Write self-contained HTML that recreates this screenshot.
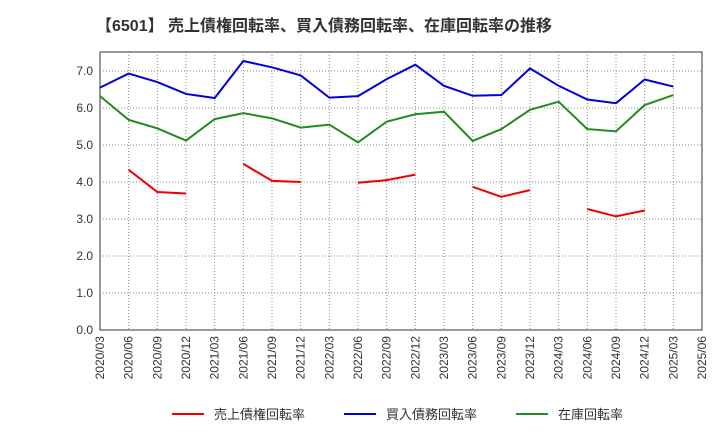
<!DOCTYPE html>
<html><head><meta charset="utf-8"><style>
body{margin:0;background:#fff;font-family:"Liberation Sans","Noto Sans CJK JP",sans-serif}
</style></head><body>
<svg id="c" width="720" height="440" xmlns="http://www.w3.org/2000/svg">
<text x="96" y="31" font-size="16" font-weight="bold" fill="#333" font-family="Liberation Sans,Noto Sans CJK JP,sans-serif">【6501】 売上債権回転率、買入債務回転率、在庫回転率の推移</text>
</svg>
<script>
const categories=["2020/03","2020/06","2020/09","2020/12","2021/03","2021/06","2021/09","2021/12","2022/03","2022/06","2022/09","2022/12","2023/03","2023/06","2023/09","2023/12","2024/03","2024/06","2024/09","2024/12","2025/03","2025/06"];
const receivables=[null,4.33,3.73,3.69,null,4.49,4.03,4.0,null,3.98,4.05,4.2,null,3.87,3.6,3.78,null,3.27,3.07,3.23,null];
const payables=[6.55,6.93,6.7,6.38,6.27,7.27,7.1,6.88,6.28,6.32,6.78,7.17,6.6,6.33,6.35,7.07,6.6,6.23,6.13,6.77,6.58];
const inventory=[6.32,5.68,5.45,5.12,5.7,5.86,5.72,5.47,5.55,5.07,5.63,5.83,5.9,5.11,5.43,5.95,6.17,5.43,5.37,6.08,6.35];
const yTicks=[0,1,2,3,4,5,6,7];
const yTickLabels=["0.0","1.0","2.0","3.0","4.0","5.0","6.0","7.0"];
const svg=document.getElementById('c');const NS="http://www.w3.org/2000/svg";
const L=100,R=702,T=52,B=330;
const x=i=>L+i*(R-L)/(categories.length-1);
const y=v=>B-v*37;
function mk(t,a){const e=document.createElementNS(NS,t);for(const k in a)e.setAttribute(k,a[k]);svg.appendChild(e);return e;}
let bg=mk('rect',{x:L,y:T,width:R-L,height:B-T,fill:'#fff',stroke:'#333'});


for(let i=1;i<categories.length-1;i++){let g=mk('line',{x1:x(i),x2:x(i),y1:T,y2:B,stroke:'#888','stroke-dasharray':'1,2'});

}
yTicks.forEach((v,i)=>{if(v>0){let g=mk('line',{x1:L,x2:R,y1:y(v),y2:y(v),stroke:'#888','stroke-dasharray':'1,2'});

}
let t=mk('text',{x:L-7,y:y(v)+4,'font-size':12,'text-anchor':'end',fill:'#333'});t.textContent=yTickLabels[i];

});
categories.forEach((c,i)=>{let t=mk('text',{x:0,y:0,'font-size':12,'text-anchor':'end',fill:'#333',transform:`translate(${x(i)+4},${B+6}) rotate(-90)`});t.textContent=c;

});
function series(d,col,name){let seg=[];const flush=()=>{if(seg.length>1){let p=mk('polyline',{points:seg.join(' '),fill:'none',stroke:col,'stroke-width':2});

}seg=[];};
d.forEach((v,i)=>{if(v==null)flush();else seg.push(x(i)+','+y(v));});flush();}
series(receivables,'#e00','receivables-turnover-line');
series(payables,'#00d','payables-turnover-line');
series(inventory,'#228b22','inventory-turnover-line');
[["売上債権回転率",'#e00',172],["買入債務回転率",'#00d',344],["在庫回転率",'#228b22',516]].forEach(([n,c,lx])=>{
let l=mk('line',{x1:lx,x2:lx+32,y1:414,y2:414,stroke:c,'stroke-width':2});


let t=mk('text',{x:lx+42,y:419,'font-size':13,fill:'#333'});t.textContent=n;

});
</script>
</body></html>
